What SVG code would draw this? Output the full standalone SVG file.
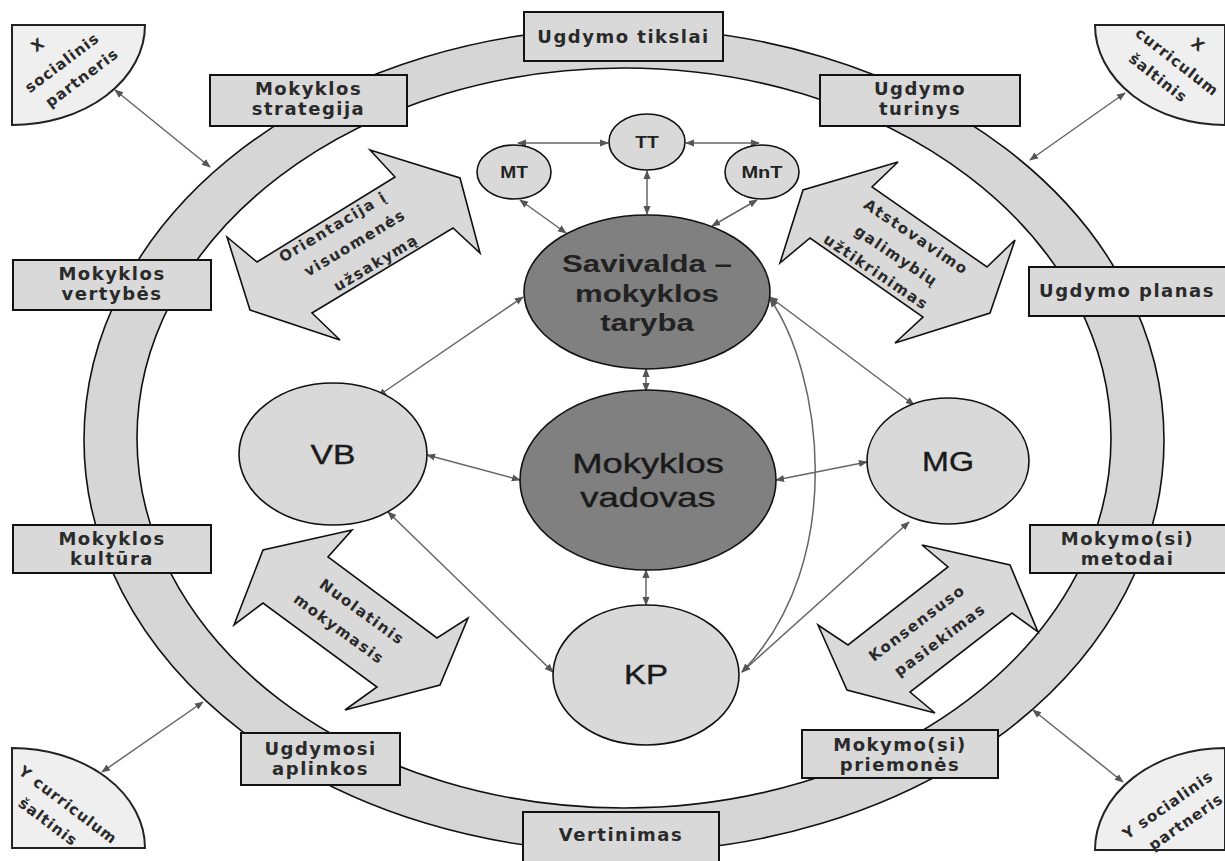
<svg xmlns="http://www.w3.org/2000/svg" width="1225" height="861" viewBox="0 0 1225 861">
<style>
.ring{fill:#d6d6d6;stroke:#111;stroke-width:1.6;fill-rule:evenodd}
.box{fill:#d9d9d9;stroke:#111;stroke-width:2}
.part{fill:#efefef;stroke:#222;stroke-width:2}
.blk{fill:#d9d9d9;stroke:#111;stroke-width:1.6;stroke-linejoin:miter}
.lt{fill:#d9d9d9;stroke:#111;stroke-width:1.6}
.dk{fill:#808080;stroke:#111;stroke-width:1.6}
.bx{font-family:"DejaVu Sans",sans-serif;font-weight:bold;font-size:18px;letter-spacing:1.5px;fill:#2a2a2a;text-anchor:middle}
.ar{font-family:"DejaVu Sans",sans-serif;font-weight:bold;font-size:15px;letter-spacing:1.5px;fill:#2a2a2a;text-anchor:middle;dominant-baseline:central}
.pt{font-family:"DejaVu Sans",sans-serif;font-weight:bold;font-size:15px;letter-spacing:1px;fill:#2a2a2a;text-anchor:middle;dominant-baseline:central}
.ct{font-family:"Liberation Sans",Arial,sans-serif;font-weight:bold;fill:#222;text-anchor:middle}
.cr{font-family:"Liberation Sans",Arial,sans-serif;font-weight:normal;fill:#1a1a1a;text-anchor:middle;stroke:#1a1a1a;stroke-width:0.4}
.cn{fill:none;stroke:#666;stroke-width:1.5;marker-start:url(#ah);marker-end:url(#ah)}
</style>
<defs>
<marker id="ah" viewBox="0 0 10 10" refX="9" refY="5" markerWidth="9" markerHeight="9" markerUnits="userSpaceOnUse" orient="auto-start-reverse">
<path d="M0,1 L10,5 L0,9 z" fill="#555"/>
</marker>
</defs>

<g id="ring">
<path class="ring" d="M84,440 A540,412 0 1,0 1164,440 A540,412 0 1,0 84,440 Z M137,438 A487,370 0 1,0 1111,438 A487,370 0 1,0 137,438 Z"/>
</g>

<g id="connectors">
<line class="cn" x1="518" y1="143" x2="608" y2="143"/>
<line class="cn" x1="686" y1="143" x2="759" y2="143"/>
<line class="cn" x1="647" y1="171" x2="647" y2="214"/>
<line class="cn" x1="520" y1="200" x2="566" y2="233"/>
<line class="cn" x1="757" y1="200" x2="712" y2="226"/>
<line class="cn" x1="378" y1="396" x2="523" y2="297"/>
<line class="cn" x1="427" y1="455" x2="520" y2="480"/>
<line class="cn" x1="776" y1="480" x2="867" y2="462"/>
<line class="cn" x1="770" y1="297" x2="914" y2="405"/>
<path class="cn" d="M770,299 C820,370 850,560 742,672"/>
<line class="cn" x1="909" y1="522" x2="742" y2="672"/>
<line class="cn" x1="388" y1="512" x2="553" y2="672"/>
<line class="cn" x1="646" y1="369" x2="646" y2="391"/>
<line class="cn" x1="646" y1="570" x2="646" y2="605"/>
<line class="cn" x1="115" y1="90" x2="210" y2="167"/>
<line class="cn" x1="1125" y1="93" x2="1030" y2="160"/>
<line class="cn" x1="102" y1="772" x2="203" y2="702"/>
<line class="cn" x1="1123" y1="782" x2="1033" y2="710"/>
</g>

<g id="box-ugdymo-tikslai"><rect class="box" x="524" y="12" width="199" height="49"/><text class="bx" x="623.5" y="43">Ugdymo tikslai</text></g>
<g id="box-mokyklos-strategija"><rect class="box" x="210" y="75" width="197" height="51"/><text class="bx" x="308.5" y="95">Mokyklos</text><text class="bx" x="308.5" y="115">strategija</text></g>
<g id="box-ugdymo-turinys"><rect class="box" x="820" y="75" width="200" height="51"/><text class="bx" x="920" y="95">Ugdymo</text><text class="bx" x="920" y="115">turinys</text></g>
<g id="box-mokyklos-vertybes"><rect class="box" x="13" y="260" width="198" height="50"/><text class="bx" x="112" y="280">Mokyklos</text><text class="bx" x="112" y="300">vertybės</text></g>
<g id="box-ugdymo-planas"><rect class="box" x="1029" y="267" width="197" height="49"/><text class="bx" x="1127" y="297">Ugdymo planas</text></g>
<g id="box-mokyklos-kultura"><rect class="box" x="13" y="525" width="198" height="48"/><text class="bx" x="112" y="545">Mokyklos</text><text class="bx" x="112" y="565">kultūra</text></g>
<g id="box-mokymo-metodai"><rect class="box" x="1030" y="525" width="196" height="48"/><text class="bx" x="1127.5" y="545">Mokymo(si)</text><text class="bx" x="1127.5" y="565">metodai</text></g>
<g id="box-ugdymosi-aplinkos"><rect class="box" x="241" y="733" width="159" height="52"/><text class="bx" x="320.5" y="755">Ugdymosi</text><text class="bx" x="320.5" y="775">aplinkos</text></g>
<g id="box-mokymo-priemones"><rect class="box" x="802" y="730" width="196" height="48"/><text class="bx" x="900" y="751">Mokymo(si)</text><text class="bx" x="900" y="771">priemonės</text></g>
<g id="box-vertinimas"><rect class="box" x="523" y="812" width="196" height="52"/><text class="bx" x="621" y="841">Vertinimas</text></g>

<g id="x-socialinis-partneris"><path class="part" d="M12,25 L145,25 A133,100 0 0,1 12,125 Z"/>
<text class="pt" transform="translate(38,45) rotate(-37)">X</text>
<text class="pt" transform="translate(62,63) rotate(-37)">socialinis</text>
<text class="pt" transform="translate(82,78) rotate(-37)">partneris</text></g>
<g id="x-curriculum-saltinis"><path class="part" d="M1225,25 L1095,25 A130,100 0 0,0 1225,125 Z"/>
<text class="pt" transform="translate(1198,45) rotate(38)">X</text>
<text class="pt" transform="translate(1177,62) rotate(38)">curriculum</text>
<text class="pt" transform="translate(1158,78) rotate(38)">šaltinis</text></g>
<g id="y-curriculum-saltinis"><path class="part" d="M12,848 L12,748 A133,100 0 0,1 145,848 Z"/>
<text class="pt" transform="translate(68,805) rotate(37)">Y curriculum</text>
<text class="pt" transform="translate(48,822) rotate(37)">šaltinis</text></g>
<g id="y-socialinis-partneris"><path class="part" d="M1225,850 L1095,850 A130,102 0 0,1 1225,748 Z"/>
<text class="pt" transform="translate(1168,805) rotate(-35)">Y socialinis</text>
<text class="pt" transform="translate(1186,822) rotate(-35)">partneris</text></g>

<g id="arrow-orientacija"><path class="blk" d="M370,150 L460,178 L480,253 L453,228 L312,313 L340,340 L250,310 L227,237 L257,262 L395,177 Z"/>
<text class="ar" transform="translate(333,227) rotate(-31)">Orientacija į</text>
<text class="ar" transform="translate(355,243) rotate(-31)">visuomenės</text>
<text class="ar" transform="translate(376,263) rotate(-31)">užsakymą</text></g>
<g id="arrow-atstovavimo"><path class="blk" d="M898,162 L803,190 L780,263 L810,238 L923,317 L895,343 L990,313 L1015,240 L987,267 L872,187 Z"/>
<text class="ar" transform="translate(916,237) rotate(34)">Atstovavimo</text>
<text class="ar" transform="translate(896,256) rotate(34)">galimybių</text>
<text class="ar" transform="translate(876,272) rotate(34)">užtikrinimas</text></g>
<g id="arrow-nuolatinis"><path class="blk" d="M352,530 L263,550 L234,625 L263,603 L377,687 L345,710 L440,685 L468,618 L437,638 L328,557 Z"/>
<text class="ar" transform="translate(362,612) rotate(36)">Nuolatinis</text>
<text class="ar" transform="translate(339,629) rotate(36)">mokymasis</text></g>
<g id="arrow-konsensuso"><path class="blk" d="M922,545 L1010,565 L1038,632 L1012,613 L910,692 L935,713 L847,690 L818,625 L848,645 L948,567 Z"/>
<text class="ar" transform="translate(917,623) rotate(-37)">Konsensuso</text>
<text class="ar" transform="translate(940,640) rotate(-37)">pasiekimas</text></g>

<g id="node-tt"><ellipse class="lt" cx="647" cy="142" rx="38" ry="28"/><text class="ct" font-size="16" transform="translate(647,148) scale(1.2,1)">TT</text></g>
<g id="node-mt"><ellipse class="lt" cx="514" cy="172" rx="37" ry="27"/><text class="ct" font-size="16" transform="translate(514,178) scale(1.2,1)">MT</text></g>
<g id="node-mnt"><ellipse class="lt" cx="762" cy="172" rx="37" ry="27"/><text class="ct" font-size="16" transform="translate(762,178) scale(1.25,1)">MnT</text></g>
<g id="node-savivalda"><ellipse class="dk" cx="647" cy="292" rx="123" ry="77"/>
<g transform="translate(647,0) scale(1.3,1)"><text class="ct" font-size="24" x="0" y="272">Savivalda –</text><text class="ct" font-size="24" x="0" y="302">mokyklos</text><text class="ct" font-size="24" x="0" y="331">taryba</text></g></g>
<g id="node-vadovas"><ellipse class="dk" cx="648" cy="480" rx="128" ry="90"/>
<g transform="translate(648,0) scale(1.3,1)"><text class="cr" font-size="28" x="0" y="473">Mokyklos</text><text class="cr" font-size="28" x="0" y="507">vadovas</text></g></g>
<g id="node-vb"><ellipse class="lt" cx="333" cy="454" rx="94" ry="71"/><text class="cr" font-size="28" transform="translate(333,464) scale(1.2,1)">VB</text></g>
<g id="node-mg"><ellipse class="lt" cx="948" cy="461" rx="81" ry="63"/><text class="cr" font-size="28" transform="translate(948,471) scale(1.15,1)">MG</text></g>
<g id="node-kp"><ellipse class="lt" cx="646" cy="675" rx="93" ry="70"/><text class="cr" font-size="28" transform="translate(646,684) scale(1.18,1)">KP</text></g>
</svg>
